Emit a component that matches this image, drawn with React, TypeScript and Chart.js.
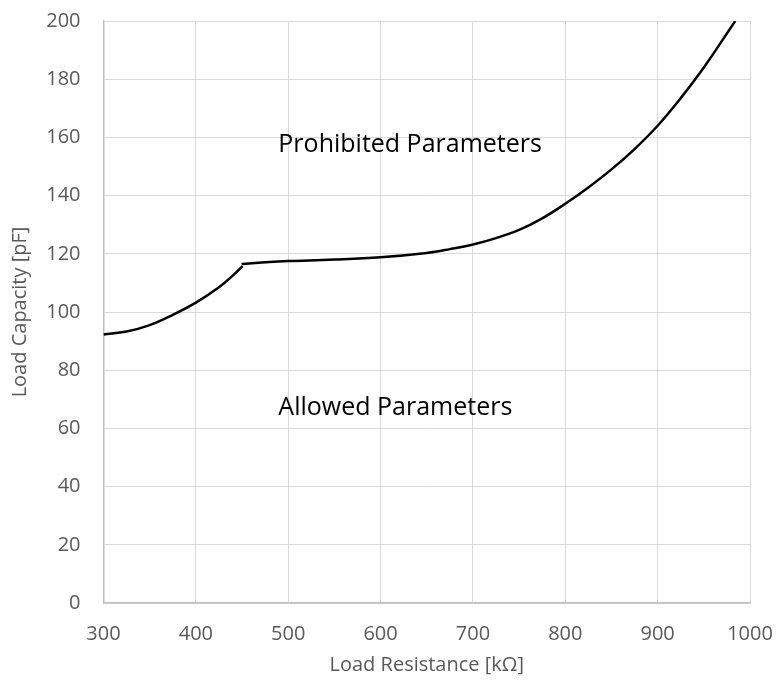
import React, { useEffect, useRef } from "react";
import { Chart, registerables } from "chart.js";

Chart.register(...registerables);

const lowX = [300, 325, 350, 375, 400, 425, 440, 450.6];
const lowY = [92.3, 93.3, 95.5, 99, 103.2, 108.5, 112.5, 115.8];
const highX = [449.5, 480, 500, 550, 600, 650, 675, 700, 725, 750, 775, 800, 825, 850, 875, 900, 925, 950, 984];
const highY = [116.5, 117.2, 117.5, 118, 118.8, 120.3, 121.6, 123.2, 125.4, 128.2, 132.2, 137.2, 142.8, 149, 156, 164, 173.5, 184, 200];
const xTicks = [300, 400, 500, 600, 700, 800, 900, 1000];
const yTicks = [0, 20, 40, 60, 80, 100, 120, 140, 160, 180, 200];
const notes = [
  { text: "Prohibited Parameters", x: 632, y: 157.5 },
  { text: "Allowed Parameters", x: 616, y: 67 },
];

const FONT = "'Open Sans', sans-serif";
const GREY = "#595959";

export default function App() {
  const ref = useRef<HTMLCanvasElement | null>(null);
  useEffect(() => {
    document.body.style.margin = "0";
    const notePlugin = {
      id: "notes",
      afterDatasetsDraw(chart: any) {
        const { ctx, scales } = chart;
        ctx.save();
        ctx.fillStyle = "#000";
        ctx.font = `25px ${FONT}`;
        ctx.textAlign = "center";
        ctx.textBaseline = "middle";
        notes.forEach((n) => {
          ctx.fillText(n.text, scales.x.getPixelForValue(n.x), scales.y.getPixelForValue(n.y));
        });
        ctx.restore();
      },
    };
    const chart = new Chart(ref.current as HTMLCanvasElement, {
      type: "scatter",
      data: {
        datasets: [
          {
            data: lowX.map((x, i) => ({ x, y: lowY[i] })),
            showLine: true,
            borderColor: "#000",
            borderWidth: 2.5,
            pointRadius: 0,
            tension: 0.4,
          },
          {
            data: highX.map((x, i) => ({ x, y: highY[i] })),
            showLine: true,
            borderColor: "#000",
            borderWidth: 2.5,
            pointRadius: 0,
            tension: 0.4,
          },
        ],
      },
      options: {
        animation: false,
        responsive: false,
        layout: { padding: { left: 0, right: 29, top: 21, bottom: 0 } },
        plugins: { legend: { display: false }, tooltip: { enabled: false } },
        scales: {
          x: {
            type: "linear",
            min: 300,
            max: 1000,
            afterBuildTicks: (s: any) => {
              s.ticks = xTicks.map((v) => ({ value: v }));
            },
            afterFit: (s: any) => {
              s.height = 82;
              s.paddingLeft = 0;
              s.paddingRight = 0;
            },
            grid: { color: "#d9d9d9", lineWidth: 1, drawTicks: false },
            border: { color: "#bfbfbf", width: 1.5 },
            ticks: {
              color: GREY,
              font: { family: FONT, size: 20 },
              padding: 19,
              maxRotation: 0,
              callback: (v: any) => String(v),
            },
            title: {
              display: true,
              text: "Load Resistance [kΩ]",
              color: GREY,
              font: { family: FONT, size: 20 },
              padding: { top: 0, bottom: 8 },
            },
          },
          y: {
            min: 0,
            max: 200,
            afterBuildTicks: (s: any) => {
              s.ticks = yTicks.map((v) => ({ value: v }));
            },
            afterFit: (s: any) => {
              s.width = 103.5;
              s.paddingTop = 0;
              s.paddingBottom = 0;
            },
            grid: { color: "#d9d9d9", lineWidth: 1, drawTicks: false },
            border: { color: "#bfbfbf", width: 1.5 },
            ticks: {
              color: GREY,
              font: { family: FONT, size: 20 },
              padding: 23,
              callback: (v: any) => String(v),
            },
            title: {
              display: true,
              text: "Load Capacity [pF]",
              color: GREY,
              font: { family: FONT, size: 20 },
              padding: { top: 8, bottom: 0 },
            },
          },
        },
      },
      plugins: [notePlugin],
    } as any);
    return () => chart.destroy();
  }, []);
  return <canvas ref={ref} width={779} height={685} style={{ display: "block" }} />;
}
